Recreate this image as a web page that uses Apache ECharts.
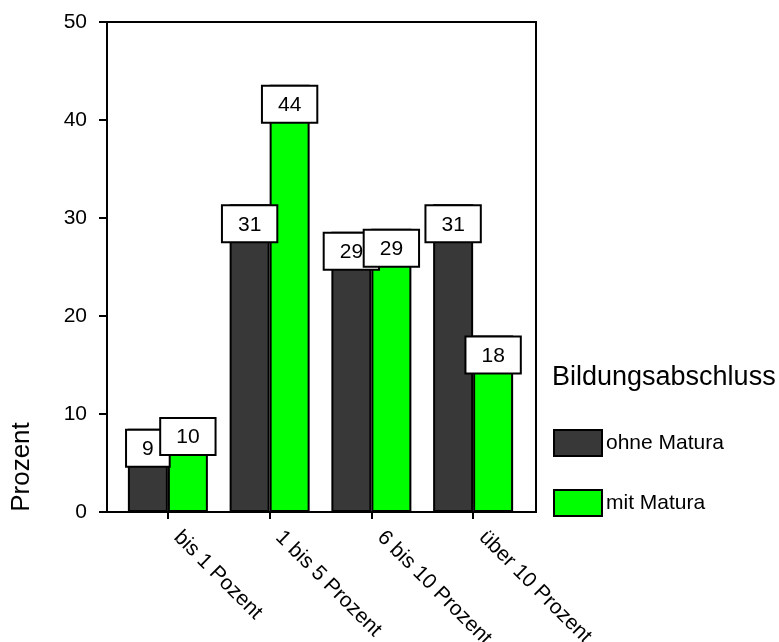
<!DOCTYPE html>
<html>
<head>
<meta charset="utf-8">
<script src="https://cdn.jsdelivr.net/npm/echarts@6/dist/echarts.min.js"></script>
<style>
  html, body { margin: 0; padding: 0; background: #fff; }
  #chart { width: 779px; height: 642px; }
</style>
</head>
<body>
<div id="chart"></div>
<script>
// Categories on the x axis
const categories = ['bis 1 Pozent', '1 bis 5 Prozent', '6 bis 10 Prozent', 'über 10 Prozent'];
// Percent values per education group
const ohneMatura = [8.5, 31.4, 28.6, 31.4];
const mitMatura = [9.7, 43.6, 28.9, 18.0];
// Series names and the y tick range
const seriesNames = ['ohne Matura', 'mit Matura'];
const yTicks = [0, 10, 20, 30, 40, 50];

const FONT = '"Liberation Sans", Arial, sans-serif';

const chart = echarts.init(document.getElementById('chart'), null, { renderer: 'canvas' });

const valueLabel = {
  show: true,
  position: 'insideTop',
  distance: 2,
  formatter: p => String(Math.round(p.value)),
  fontFamily: FONT,
  fontSize: 21,
  color: '#000',
  backgroundColor: '#fff',
  borderColor: '#000',
  borderWidth: 2,
  padding: [8, 15, 6, 15]
};

const option = {
  backgroundColor: '#fff',
  animation: false,
  textStyle: { fontFamily: FONT },
  title: {
    text: 'Bildungsabschluss',
    left: 552,
    top: 364,
    padding: 0,
    textStyle: { fontFamily: FONT, fontSize: 27, fontWeight: 'normal', color: '#000' }
  },
  legend: {
    data: seriesNames,
    orient: 'vertical',
    left: 553,
    top: 429,
    padding: 0,
    itemWidth: 48,
    itemHeight: 26,
    itemGap: 32,
    icon: 'rect',
    textStyle: { fontFamily: FONT, fontSize: 21, color: '#000', padding: [0, 0, 0, -1] }
  },
  grid: [
    // frame with the y axis
    { left: 107, right: 243, top: 22, bottom: 130, outerBoundsMode: 'none', containLabel: false,
      show: true, borderColor: '#000', borderWidth: 2, backgroundColor: 'transparent' },
    // bars, inset from the frame
    { left: 117, right: 255, top: 22, bottom: 130, outerBoundsMode: 'none', containLabel: false }
  ],
  xAxis: [
    {
      gridIndex: 0, type: 'value', min: 0, max: 1,
      axisLine: { show: true, lineStyle: { color: '#000', width: 2 } },
      axisTick: { show: false }, axisLabel: { show: false }, splitLine: { show: false }
    },
    {
      gridIndex: 1, type: 'category', data: categories,
      axisLine: { show: false },
      axisTick: { show: true, alignWithLabel: true, length: 7, lineStyle: { color: '#000', width: 2 } },
      axisLabel: {
        rotate: -45, margin: 13, interval: 0, padding: [0, 0, 0, 13],
        fontFamily: FONT, fontSize: 21, color: '#000'
      }
    }
  ],
  yAxis: [
    {
      gridIndex: 0, type: 'value', min: yTicks[0], max: yTicks[yTicks.length - 1], interval: 10,
      axisLine: { show: true, lineStyle: { color: '#000', width: 2 } },
      axisTick: { show: true, length: 8, lineStyle: { color: '#000', width: 2 } },
      axisLabel: { margin: 20, fontFamily: FONT, fontSize: 21, color: '#000', padding: [4, 0, 0, 0] },
      splitLine: { show: false }
    },
    {
      gridIndex: 1, type: 'value', min: yTicks[0], max: yTicks[yTicks.length - 1],
      show: false, splitLine: { show: false }
    }
  ],
  graphic: [
    {
      type: 'text',
      x: 22,
      y: 467,
      rotation: Math.PI / 2,
      style: {
        text: 'Prozent',
        font: '26px ' + FONT,
        fill: '#000',
        align: 'center',
        verticalAlign: 'middle'
      }
    }
  ],
  series: [
    {
      name: seriesNames[0],
      type: 'bar',
      xAxisIndex: 1, yAxisIndex: 1,
      data: ohneMatura,
      barWidth: 40,
      barGap: '0%',
      itemStyle: { color: '#383838', borderColor: '#000', borderWidth: 2 },
      label: valueLabel
    },
    {
      name: seriesNames[1],
      type: 'bar',
      xAxisIndex: 1, yAxisIndex: 1,
      data: mitMatura,
      barWidth: 40,
      barGap: '0%',
      itemStyle: { color: '#00ff00', borderColor: '#000', borderWidth: 2 },
      label: valueLabel
    }
  ]
};

chart.setOption(option);
</script>
</body>
</html>
